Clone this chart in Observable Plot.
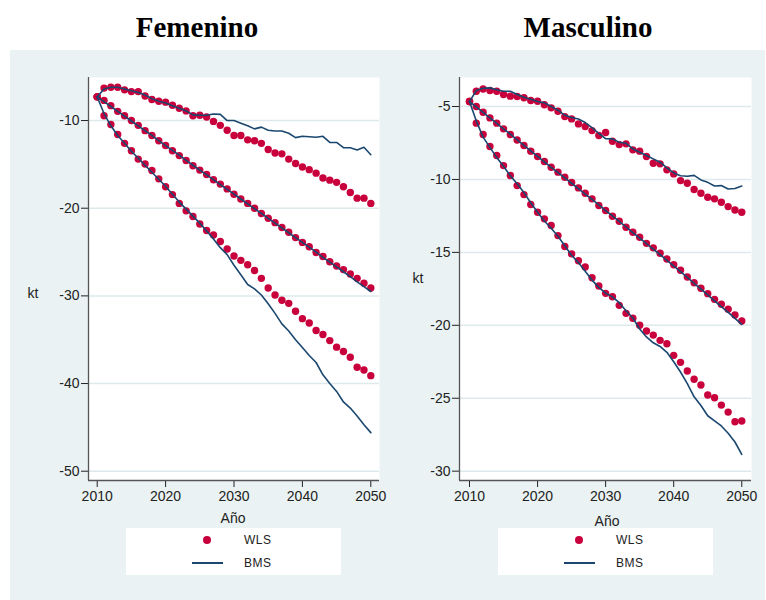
<!DOCTYPE html>
<html><head><meta charset="utf-8">
<script src="https://cdn.jsdelivr.net/npm/d3@7"></script>
<script src="https://cdn.jsdelivr.net/npm/@observablehq/plot@0.6"></script>
<style>
body{margin:0;background:#fff;}
#wrap{position:relative;width:766px;height:600px;overflow:hidden;font-family:"Liberation Sans",Arial,sans-serif;}
#bg{position:absolute;left:10px;top:50px;width:755px;height:550px;background:#EAF2F3;}
.title{position:absolute;top:13px;font-family:"Liberation Serif","Times New Roman",serif;font-weight:bold;font-size:29px;line-height:29px;transform:translateX(-50%);white-space:nowrap;color:#000;}
.plot{position:absolute;top:50px;}
.ax{position:absolute;font-size:14px;line-height:14px;color:#222;transform:translate(-50%,-50%);white-space:nowrap;}
.legend{position:absolute;top:528px;height:47px;width:215px;background:#fff;}
.legend .dot{position:absolute;left:77px;top:8px;width:8px;height:8px;border-radius:50%;background:#C8003C;}
.legend .ln{position:absolute;left:66px;top:34px;width:31px;height:2px;background:#1A476F;}
.legend .lab{position:absolute;left:118px;font-size:12px;line-height:12px;color:#222;letter-spacing:0.5px;}
</style></head>
<body>
<div id="wrap">
  <div id="bg"></div>
  <div class="title" style="left:197px">Femenino</div>
  <div class="title" style="left:588px">Masculino</div>
  <div class="plot" id="pf" style="left:10px"></div>
  <div class="plot" id="pm" style="left:390px"></div>
  <div class="ax" style="left:33px;top:293px">kt</div>
  <div class="ax" style="left:418px;top:278px">kt</div>
  <div class="ax" style="left:233px;top:518px">Año</div>
  <div class="ax" style="left:607px;top:521px">Año</div>
  <div class="legend" style="left:126px"><div class="dot"></div><div class="lab" style="top:6px">WLS</div><div class="ln"></div><div class="lab" style="top:29px">BMS</div></div>
  <div class="legend" style="left:498px"><div class="dot"></div><div class="lab" style="top:6px">WLS</div><div class="ln"></div><div class="lab" style="top:29px">BMS</div></div>
</div>
<script>
const years = [2010,2011,2012,2013,2014,2015,2016,2017,2018,2019,2020,2021,2022,2023,2024,2025,2026,2027,2028,2029,2030,2031,2032,2033,2034,2035,2036,2037,2038,2039,2040,2041,2042,2043,2044,2045,2046,2047,2048,2049,2050];
const xTicks = [2010, 2020, 2030, 2040, 2050];
const femYTicks = [-10, -20, -30, -40, -50];
const mascYTicks = [-5, -10, -15, -20, -25, -30];

// Femenino
const femWLS1 = [-7.3,-6.3,-6.2,-6.2,-6.5,-6.7,-6.7,-7.2,-7.6,-7.8,-7.9,-8.25,-8.6,-8.9,-9.45,-9.4,-9.6,-10.1,-10.55,-11.1,-11.7,-11.7,-12.2,-12.3,-12.6,-13.3,-13.7,-13.8,-14.4,-14.9,-15.3,-15.6,-16.0,-16.55,-16.8,-17.05,-17.55,-18.2,-18.85,-18.85,-19.45];
const femBMS1 = [-7.3,-6.4,-6.2,-6.2,-6.4,-6.6,-6.8,-7.1,-7.5,-7.8,-8.0,-8.3,-8.6,-8.9,-9.35,-9.4,-9.4,-9.25,-9.3,-10.0,-10.0,-10.3,-10.6,-10.95,-10.75,-11.1,-11.2,-11.2,-11.45,-11.95,-11.8,-11.85,-11.9,-11.8,-12.5,-12.5,-13.1,-13.1,-13.35,-13.05,-13.9];
const femWLS2 = [-7.3,-7.7,-8.3,-8.95,-9.45,-10.0,-10.55,-11.15,-11.7,-12.3,-12.85,-13.45,-14.0,-14.55,-15.15,-15.65,-16.15,-16.75,-17.25,-17.8,-18.4,-18.95,-19.45,-20.0,-20.6,-21.15,-21.65,-22.2,-22.75,-23.35,-23.9,-24.4,-25.05,-25.5,-26.1,-26.6,-27.0,-27.5,-28.0,-28.55,-29.1];
const femBMS2 = [-7.3,-7.85,-8.4,-8.95,-9.5,-10.05,-10.6,-11.15,-11.7,-12.3,-12.85,-13.4,-13.95,-14.55,-15.1,-15.65,-16.2,-16.75,-17.3,-17.85,-18.4,-18.95,-19.5,-20.05,-20.6,-21.15,-21.7,-22.25,-22.8,-23.35,-23.9,-24.45,-25.0,-25.6,-26.15,-26.7,-27.25,-27.8,-28.4,-28.95,-29.5];
const femWLS3 = [-7.3,-9.45,-10.45,-11.6,-12.6,-13.45,-14.4,-14.95,-15.7,-16.65,-17.55,-18.45,-19.45,-20.3,-20.95,-21.8,-22.55,-23.05,-23.8,-24.65,-25.45,-25.95,-26.45,-27.1,-28.0,-29.1,-29.9,-30.5,-30.85,-31.75,-32.6,-33.1,-33.95,-34.4,-35.1,-35.85,-36.35,-37.0,-38.15,-38.45,-39.1];
const femBMS3 = [-7.3,-9.2,-10.6,-11.7,-12.6,-13.5,-14.3,-15.1,-15.9,-16.7,-17.5,-18.4,-19.3,-20.1,-20.9,-21.7,-22.6,-23.5,-24.5,-25.3,-26.5,-27.6,-28.7,-29.2,-29.9,-30.9,-32.0,-33.2,-34.0,-35.0,-35.9,-36.8,-37.6,-39.0,-40.0,-40.9,-42.1,-42.8,-43.7,-44.7,-45.6];

// Masculino
const mascWLS1 = [-4.66,-3.95,-3.8,-3.9,-3.95,-4.18,-4.29,-4.31,-4.4,-4.59,-4.64,-4.88,-5.09,-5.32,-5.69,-5.85,-6.19,-6.37,-6.65,-6.99,-6.78,-7.38,-7.61,-7.56,-7.97,-8.06,-8.43,-8.89,-8.93,-9.34,-9.62,-10.08,-10.26,-10.69,-10.95,-11.22,-11.33,-11.56,-11.86,-12.09,-12.25];
const mascBMS1 = [-4.66,-3.9,-3.75,-3.72,-3.85,-3.95,-3.95,-4.18,-4.36,-4.5,-4.65,-4.75,-5.0,-5.25,-5.6,-5.75,-5.85,-6.1,-6.45,-6.85,-7.2,-7.22,-7.45,-7.52,-7.9,-8.13,-8.36,-8.59,-8.82,-9.2,-9.55,-9.75,-9.78,-9.72,-10.03,-10.2,-10.45,-10.42,-10.65,-10.62,-10.45];
const mascWLS2 = [-4.66,-5.0,-5.39,-5.78,-6.14,-6.53,-6.92,-7.29,-7.67,-8.06,-8.43,-8.77,-9.16,-9.5,-9.85,-10.21,-10.58,-10.95,-11.33,-11.79,-12.13,-12.52,-12.87,-13.28,-13.62,-13.96,-14.38,-14.69,-15.06,-15.45,-15.85,-16.23,-16.69,-17.08,-17.46,-17.83,-18.22,-18.56,-18.9,-19.29,-19.7];
const mascBMS2 = [-4.66,-5.02,-5.4,-5.78,-6.15,-6.53,-6.9,-7.28,-7.66,-8.04,-8.42,-8.8,-9.17,-9.53,-9.9,-10.26,-10.63,-11.0,-11.37,-11.75,-12.13,-12.5,-12.88,-13.26,-13.64,-14.02,-14.4,-14.78,-15.16,-15.55,-15.93,-16.32,-16.72,-17.12,-17.52,-17.92,-18.32,-18.72,-19.12,-19.52,-19.93];
const mascWLS3 = [-4.66,-6.14,-6.92,-7.74,-8.36,-9.05,-9.73,-10.42,-11.04,-11.72,-12.25,-12.7,-13.16,-13.85,-14.6,-15.1,-15.57,-16.0,-16.74,-17.3,-17.81,-18.04,-18.63,-19.18,-19.52,-20.0,-20.39,-20.67,-21.03,-21.26,-22.06,-22.54,-23.13,-23.7,-24.09,-24.78,-24.97,-25.47,-25.95,-26.61,-26.56];
const mascBMS3 = [-4.66,-6.0,-7.1,-7.8,-8.5,-9.1,-9.75,-10.3,-10.9,-11.6,-12.25,-12.85,-13.35,-13.9,-14.55,-15.2,-15.7,-16.3,-16.9,-17.4,-17.8,-18.05,-18.45,-19.0,-19.5,-20.25,-20.8,-21.2,-21.45,-21.85,-22.5,-23.2,-24.0,-24.9,-25.5,-26.2,-26.55,-26.9,-27.4,-28.0,-28.85];

const RED = "#C8003C", NAVY = "#1A476F";

function tidy(seriesList) {
  return seriesList.flatMap((vals, k) => vals.map((v, i) => ({year: years[i], value: v, s: k})));
}

function panel({wls, bms, xDomain, yDomain, yTicks, width, marginLeft, marginRight}) {
  const dots = tidy(wls), lines = tidy(bms);
  return Plot.plot({
    width, height: 490,
    marginLeft, marginRight, marginTop: 27, marginBottom: 60,
    style: {background: "transparent", fontFamily: "'Liberation Sans', Arial, sans-serif", fontSize: "14px", color: "#222", overflow: "visible"},
    x: {domain: xDomain, ticks: xTicks, tickFormat: d => String(d), tickSize: 7, tickPadding: 4, label: null},
    y: {domain: yDomain, ticks: yTicks, tickFormat: d => String(d), tickSize: 7, tickPadding: 2, label: null},
    marks: [
      Plot.frame({fill: "white", stroke: "none"}),
      Plot.ruleY(yTicks, {stroke: "#DDE9EB", strokeWidth: 1.5}),
      Plot.dot(dots, {x: "year", y: "value", r: 3.7, fill: RED, stroke: "none"}),
      Plot.line(lines, {x: "year", y: "value", z: "s", stroke: NAVY, strokeWidth: 1.6}),
      Plot.ruleX([xDomain[0]], {stroke: "#555", strokeWidth: 1.3}),
      Plot.ruleY([yDomain[0]], {stroke: "#555", strokeWidth: 1.3})
    ]
  });
}

document.getElementById("pf").appendChild(panel({
  wls: [femWLS1, femWLS2, femWLS3], bms: [femBMS1, femBMS2, femBMS3],
  xDomain: [2008.73, 2051.27], yDomain: [-51.06, -5.09], yTicks: femYTicks,
  width: 380, marginLeft: 78, marginRight: 11
}));
document.getElementById("pm").appendChild(panel({
  wls: [mascWLS1, mascWLS2, mascWLS3], bms: [mascBMS1, mascBMS2, mascBMS3],
  xDomain: [2008.53, 2051.43], yDomain: [-30.64, -3.01], yTicks: mascYTicks,
  width: 376, marginLeft: 69, marginRight: 15
}));
</script>
</body></html>
